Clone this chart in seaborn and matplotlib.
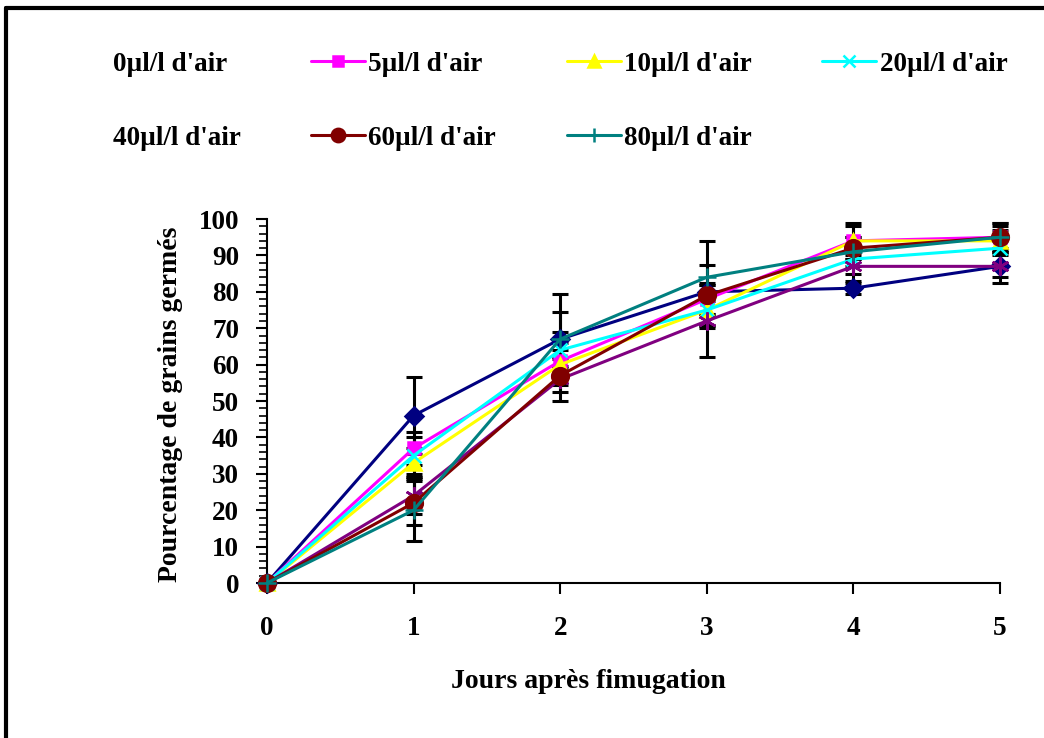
import matplotlib
matplotlib.use("Agg")
import pandas as pd
import seaborn as sns
from matplotlib import pyplot as plt
from matplotlib.lines import Line2D
from matplotlib.ticker import MultipleLocator

# Données
jours = [0, 1, 2, 3, 4, 5]
doses = ["0µl/l d'air", "5µl/l d'air", "10µl/l d'air", "20µl/l d'air",
         "40µl/l d'air", "60µl/l d'air", "80µl/l d'air"]
g_0 = [0, 46, 67, 80, 81, 87]
g_5 = [0, 37, 61, 78, 94, 95]
g_10 = [0, 33, 60, 75, 94, 94]
g_20 = [0, 35, 64, 75, 89, 92]
g_40 = [0, 24, 56, 72, 87, 87]
g_60 = [0, 22, 57, 79, 92, 95]
g_80 = [0, 20, 67, 84, 91, 95]
err_0 = [0, 10.5, 7.5, 2.5, 1.5, 3]
err_5 = [0, 4.5, 5, 4, 5, 4]
err_10 = [0, 4, 4, 4, 4, 3]
err_20 = [0, 5, 5, 5, 4, 4]
err_40 = [0, 5, 6, 10, 4, 4.5]
err_60 = [0, 6, 4.5, 8.5, 3, 4]
err_80 = [0, 8.5, 12.5, 10, 4, 3]

valeurs = [g_0, g_5, g_10, g_20, g_40, g_60, g_80]
erreurs = [err_0, err_5, err_10, err_20, err_40, err_60, err_80]

couleurs = ["#000080", "#FF00FF", "#FFFF00", "#00FFFF", "#800080", "#800000", "#008080"]
marqueurs = ["D", "s", "^", "x", (6, 2, 0), "o", "+"]
tailles = [9, 9, 10, 10, 13, 12, 13]

rows = []
for d, v in zip(doses, valeurs):
    for j, g in zip(jours, v):
        rows.append({"jour": j, "germes": g, "dose": d})
df = pd.DataFrame(rows)

sns.set_style("ticks")
plt.rcParams["font.family"] = ["Liberation Serif", "DejaVu Serif"]
plt.rcParams["font.weight"] = "bold"
for k in ["text.color", "axes.labelcolor", "xtick.color", "ytick.color", "axes.edgecolor"]:
    plt.rcParams[k] = "black"

fig = plt.figure(figsize=(10.44, 7.38), dpi=100)
ax = fig.add_axes([0.2557, 0.21, 0.7021, 0.4932])

for i, d in enumerate(doses):
    sub = df[df["dose"] == d]
    ax.errorbar(sub["jour"], sub["germes"], yerr=erreurs[i], fmt="none",
                ecolor="black", elinewidth=2.2, capsize=6, capthick=2.2,
                zorder=2, clip_on=False)
for i, d in enumerate(doses):
    sub = df[df["dose"] == d]
    sns.lineplot(data=sub, x="jour", y="germes", ax=ax, color=couleurs[i],
                 marker=marqueurs[i], markersize=tailles[i], linewidth=2.2,
                 markeredgecolor=couleurs[i], markeredgewidth=1.8,
                 label=d, clip_on=False, zorder=3)
h, l = ax.get_legend_handles_labels()
handles = dict(zip(l, h))
ax.get_legend().remove()

ax.set_xlim(0, 5)
ax.set_ylim(0, 100)
ax.set_xticks(jours)
ax.yaxis.set_major_locator(MultipleLocator(10))
ax.yaxis.set_minor_locator(MultipleLocator(2))
sns.despine(ax=ax)
ax.spines["left"].set_linewidth(1.5)
ax.spines["bottom"].set_linewidth(1.5)
ax.tick_params(axis="both", which="major", length=8, width=1.5, labelsize=19.5)
ax.tick_params(axis="y", which="minor", length=6, width=1.2)
ax.tick_params(axis="y", which="major", pad=12)
ax.tick_params(axis="x", which="major", pad=16)
for t in ax.get_xticklabels() + ax.get_yticklabels():
    t.set_fontweight("bold")

ax.set_xlabel("Jours après fimugation", fontsize=20, fontweight="bold")
ax.set_ylabel("Pourcentage de grains germés", fontsize=20, fontweight="bold")
ax.xaxis.set_label_coords(0.438, -0.235)
ax.yaxis.set_label_coords(-0.115, 0.49)

# légende : les entrées 0 et 40 n'ont pas de trait visible
vide = Line2D([], [], color="none")
ordre = ["0µl/l d'air", "40µl/l d'air", "5µl/l d'air", "60µl/l d'air",
         "10µl/l d'air", "80µl/l d'air", "20µl/l d'air"]
leg_h = [vide if d in ("0µl/l d'air", "40µl/l d'air") else handles[d] for d in ordre]
leg = fig.legend(leg_h, ordre, loc="upper left", bbox_to_anchor=(0.040, 0.948),
                 ncol=4, frameon=False, handlelength=2.0, handletextpad=0.12,
                 columnspacing=2.6, labelspacing=1.8, borderpad=0, markerscale=0.8,
                 prop={"family": "Liberation Serif", "weight": "bold", "size": 19.5})

# cadre noir en haut et à gauche
fig.add_artist(Line2D([0.0062, 1.0], [0.9885, 0.9885], color="black", linewidth=3))
fig.add_artist(Line2D([0.0062, 0.0062], [0.0, 0.9885], color="black", linewidth=3))

fig.savefig("out.png", dpi=100)
